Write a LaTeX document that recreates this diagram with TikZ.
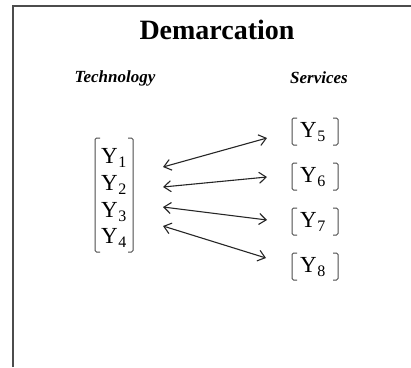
\documentclass[tikz,border=0pt]{standalone}
\usepackage{fontspec}
\setmainfont{Liberation Serif}
\usetikzlibrary{arrows.meta}
\newcommand{\ysub}[1]{Y\kern0.5pt\raisebox{-4pt}{\fontsize{16}{16}\selectfont #1}}
\begin{document}
\begin{tikzpicture}[x=1pt,y=-1pt,
  title/.style={font=\fontsize{28}{32}\selectfont\bfseries, inner sep=0pt},
  head/.style={font=\fontsize{17}{20}\selectfont\bfseries\itshape, inner sep=0pt},
  yv/.style={font=\fontsize{23}{27}\selectfont, inner sep=0pt, anchor=base west},
  brk/.style={draw=black!70, line width=1pt, rounded corners=1.5pt},
  link/.style={draw=black!85, line width=1.1pt, {Straight Barb[length=7pt,width=11pt]}-{Straight Barb[length=7pt,width=11pt]}},
  frame/.style={draw=black!70, line width=2pt}]
\useasboundingbox (0,0) rectangle (411,367);
\draw[frame] (13,367) -- (13,6) -- (411,6);
\node[title] (t) at (217,30) {Demarcation};
\node[head] (tech) at (115,78) {Technology};
\node[head] (serv) at (319,78) {Services};
% left column
\node[yv] (y1) at (101,163) {\ysub{1}};
\node[yv] (y2) at (101,190) {\ysub{2}};
\node[yv] (y3) at (101,217) {\ysub{3}};
\node[yv] (y4) at (101,243) {\ysub{4}};
\draw[brk] (100,138) -- (95,138) -- (95,252) -- (100,252);
\draw[brk] (128,138) -- (133,138) -- (133,252) -- (128,252);
% right column
\foreach \n/\b in {5/137,6/182,7/227,8/272}{
  \node[yv] (y\n) at (300,\b) {\ysub{\n}};
  \draw[brk] (297,\b-19) -- (292,\b-19) -- (292,\b+8) -- (297,\b+8);
  \draw[brk] (333,\b-19) -- (338,\b-19) -- (338,\b+8) -- (333,\b+8);
}
% arrow ends
\coordinate (a1) at (163,167); \coordinate (b1) at (267,138);
\coordinate (a2) at (163,187); \coordinate (b2) at (267,177);
\coordinate (a3) at (163,207); \coordinate (b3) at (267,220);
\coordinate (a4) at (163,226); \coordinate (b4) at (266,258);
\foreach \i in {1,2,3,4}{ \draw[link] (a\i) -- (b\i); }
\end{tikzpicture}
\end{document}
